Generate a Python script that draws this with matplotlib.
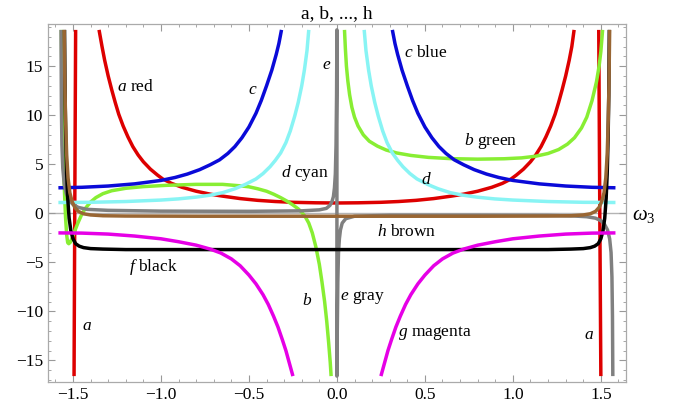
import matplotlib
matplotlib.use("Agg")
import matplotlib.pyplot as plt
from matplotlib.ticker import MultipleLocator

# ---- values ----
# a (red): two near-vertical pole lines and the central U branch
a_pole_l_x = [-1.485, -1.490, -1.494]
a_pole_l_y = [18.7, 0.0, -16.6]
a_mid_x = [-1.352, -1.335, -1.32, -1.30, -1.28, -1.26, -1.24, -1.215, -1.188, -1.16, -1.13, -1.10, -1.06,
           -1.02, -0.99, -0.94, -0.88, -0.8, -0.72, -0.65, -0.55, -0.45, -0.35, -0.25, -0.12, 0.0,
           0.12, 0.25, 0.35, 0.45, 0.55, 0.65, 0.72, 0.8, 0.88, 0.94, 0.99, 1.02, 1.06, 1.10, 1.13, 1.16,
           1.188, 1.215, 1.24, 1.26, 1.28, 1.30, 1.32, 1.335, 1.348]
a_mid_y = [18.7, 17.0, 15.6, 14.0, 12.6, 11.3, 10.1, 8.9, 7.8, 6.8, 5.95, 5.25, 4.5,
           3.9, 3.5, 3.05, 2.65, 2.25, 1.95, 1.75, 1.5, 1.32, 1.2, 1.12, 1.07, 1.05,
           1.07, 1.12, 1.2, 1.32, 1.5, 1.75, 1.95, 2.25, 2.65, 3.05, 3.5, 3.9, 4.5, 5.25, 5.95, 6.8,
           7.8, 8.9, 10.1, 11.3, 12.6, 14.0, 15.6, 17.0, 18.7]
a_pole_r_x = [1.488, 1.494, 1.500]
a_pole_r_y = [18.7, 0.0, -16.6]

# b (green)
b_left_x = [-1.566, -1.562, -1.558, -1.553, -1.548, -1.542, -1.536, -1.530, -1.524, -1.515, -1.505, -1.49,
            -1.47, -1.45, -1.43, -1.40, -1.37, -1.33, -1.28, -1.2, -1.1, -0.97, -0.8, -0.65, -0.55, -0.5,
            -0.45, -0.40, -0.36, -0.32, -0.28, -0.25, -0.22, -0.20, -0.18, -0.16, -0.14, -0.12, -0.10,
            -0.085, -0.07, -0.058, -0.047, -0.038, -0.033]
b_left_y = [18.7, 12.0, 8.0, 4.5, 2.0, -0.5, -2.2, -3.0, -3.1, -2.95, -2.5, -1.8,
            -0.9, -0.1, 0.5, 1.15, 1.6, 2.0, 2.3, 2.55, 2.72, 2.85, 2.95, 2.95, 2.8, 2.7,
            2.5, 2.25, 1.95, 1.6, 1.2, 0.85, 0.45, 0.1, -0.35, -1.0, -2.0, -3.4, -5.2,
            -7.0, -9.0, -11.0, -13.2, -15.2, -16.6]
b_right_x = [0.043, 0.048, 0.054, 0.062, 0.072, 0.085, 0.10, 0.12, 0.15, 0.184, 0.23, 0.28, 0.34, 0.42, 0.52,
             0.65, 0.8, 0.95, 1.05, 1.13, 1.2, 1.26, 1.31, 1.35, 1.39, 1.42, 1.45, 1.475, 1.49, 1.50, 1.51]
b_right_y = [18.7, 16.8, 15.0, 13.5, 12.1, 10.8, 9.8, 8.9, 8.0, 7.35, 6.85, 6.45, 6.15, 5.9, 5.7,
             5.57, 5.52, 5.56, 5.65, 5.82, 6.1, 6.5, 7.05, 7.7, 8.7, 9.8, 11.5, 13.4, 15.0, 16.5, 18.7]

# c (blue)
c_left_x = [-1.583, -1.45, -1.3, -1.15, -1.0, -0.92, -0.85, -0.78, -0.72, -0.667, -0.62, -0.58, -0.54, -0.50,
            -0.46, -0.43, -0.40, -0.37, -0.345, -0.33, -0.315]
c_left_y = [2.6, 2.65, 2.78, 3.0, 3.35, 3.65, 4.0, 4.45, 4.95, 5.45, 6.1, 6.8, 7.7, 8.8,
            10.2, 11.5, 13.0, 14.6, 16.2, 17.3, 18.7]
c_right_x = [0.315, 0.33, 0.345, 0.37, 0.40, 0.43, 0.46, 0.50, 0.54, 0.58, 0.62, 0.667, 0.72, 0.78, 0.85, 0.92,
             1.0, 1.15, 1.3, 1.45, 1.583]
c_right_y = [18.7, 17.3, 16.2, 14.6, 13.0, 11.5, 10.2, 8.8, 7.7, 6.8, 6.1, 5.45, 4.95, 4.45, 4.0, 3.65,
             3.35, 3.0, 2.78, 2.65, 2.6]

# d (cyan)
d_left_x = [-1.583, -1.4, -1.2, -1.0, -0.9, -0.8, -0.72, -0.65, -0.58, -0.52, -0.46, -0.42, -0.38, -0.35,
            -0.32, -0.29, -0.265, -0.24, -0.22, -0.20, -0.185, -0.17, -0.16]
d_left_y = [1.1, 1.12, 1.2, 1.35, 1.47, 1.65, 1.85, 2.1, 2.5, 2.95, 3.5, 4.05, 4.75, 5.4,
            6.15, 7.2, 8.4, 9.9, 11.3, 13.0, 14.6, 16.6, 18.7]
d_right_x = [0.155, 0.165, 0.18, 0.195, 0.215, 0.235, 0.26, 0.285, 0.315, 0.345, 0.375, 0.415, 0.455, 0.515,
             0.575, 0.645, 0.715, 0.795, 0.895, 1.0, 1.2, 1.4, 1.583]
d_right_y = [18.7, 16.6, 14.6, 13.0, 11.3, 9.9, 8.4, 7.2, 6.15, 5.4, 4.75, 4.05, 3.5, 2.95,
             2.5, 2.1, 1.85, 1.65, 1.47, 1.35, 1.2, 1.12, 1.1]

# e (gray): left branch runs up into the pole at 0, joined to the right branch from below
e_left_x = [-1.568, -1.566, -1.563, -1.558, -1.550, -1.538, -1.52, -1.50, -1.47, -1.42, -1.3, -1.0, -0.5,
            -0.2, -0.1, -0.06, -0.04, -0.028, -0.02, -0.014, -0.009, -0.005, -0.002, 0.0]
e_left_y = [18.7, 11.0, 7.0, 4.6, 3.0, 2.0, 1.3, 0.9, 0.6, 0.4, 0.3, 0.22, 0.2,
            0.25, 0.35, 0.5, 0.8, 1.2, 1.7, 2.6, 4.0, 7.0, 12.0, 18.7]
e_right_x = [0.0, 0.002, 0.005, 0.009, 0.014, 0.02, 0.03, 0.05, 0.1, 0.3, 0.8, 1.2, 1.35, 1.42, 1.47, 1.50,
             1.52, 1.538, 1.550, 1.558, 1.563, 1.566, 1.568]
e_right_y = [-16.6, -12.0, -7.0, -4.0, -2.6, -1.7, -1.0, -0.55, -0.3, -0.2, -0.2, -0.22, -0.28, -0.35, -0.5,
             -0.75, -1.1, -1.7, -2.6, -4.0, -6.5, -10.5, -16.6]

# f (black)
f_x = [-1.548, -1.545, -1.541, -1.536, -1.530, -1.522, -1.512, -1.50, -1.485, -1.465, -1.44, -1.40, -1.33,
       -1.2, -0.8, 0.0, 0.8, 1.2, 1.33, 1.40, 1.44, 1.465, 1.485, 1.50, 1.512, 1.522, 1.530, 1.536, 1.541,
       1.545, 1.548]
f_y = [18.7, 12.0, 7.5, 4.0, 1.5, -0.5, -1.8, -2.6, -3.1, -3.35, -3.5, -3.6, -3.65,
       -3.7, -3.7, -3.7, -3.7, -3.7, -3.65, -3.6, -3.5, -3.35, -3.1, -2.6, -1.8, -0.5, 1.5, 4.0, 7.5,
       12.0, 18.7]

# g (magenta)
g_left_x = [-1.583, -1.45, -1.3, -1.15, -1.0, -0.9, -0.8, -0.72, -0.66, -0.60, -0.55, -0.50, -0.46, -0.42,
            -0.39, -0.36, -0.335, -0.31, -0.29, -0.27, -0.25]
g_left_y = [-2.0, -2.02, -2.12, -2.32, -2.6, -2.9, -3.25, -3.65, -4.05, -4.65, -5.35, -6.3, -7.2, -8.3,
            -9.3, -10.5, -11.6, -12.9, -14.0, -15.3, -16.6]
g_right_x = [0.25, 0.27, 0.29, 0.31, 0.335, 0.36, 0.39, 0.42, 0.46, 0.50, 0.55, 0.60, 0.66, 0.72, 0.8, 0.9,
             1.0, 1.15, 1.3, 1.45, 1.583]
g_right_y = [-16.6, -15.3, -14.0, -12.9, -11.6, -10.5, -9.3, -8.3, -7.2, -6.3, -5.35, -4.65, -4.05, -3.65,
             -3.25, -2.9, -2.6, -2.32, -2.12, -2.02, -2.0]

# h (brown)
h_x = [-1.550, -1.546, -1.542, -1.536, -1.528, -1.518, -1.505, -1.49, -1.47, -1.44, -1.40, -1.33, -1.2, -0.8,
       0.0, 0.8, 1.2, 1.33, 1.40, 1.44, 1.47, 1.49, 1.505, 1.518, 1.528, 1.536, 1.542, 1.546, 1.550]
h_y = [18.7, 13.0, 9.5, 6.0, 3.6, 2.1, 1.2, 0.6, 0.2, -0.05, -0.17, -0.25, -0.28, -0.3,
       -0.3, -0.3, -0.28, -0.25, -0.17, -0.05, 0.2, 0.6, 1.2, 2.1, 3.6, 6.0, 9.5, 13.0, 18.7]

# curve labels: (text, x, y, horizontal alignment)
labels = [
    (r"$a$ red", -1.25, 12.9, "left"),
    (r"$c$", -0.48, 12.6, "center"),
    (r"$e$", -0.06, 15.1, "center"),
    (r"$c$ blue", 0.38, 16.3, "left"),
    (r"$b$ green", 0.72, 7.4, "left"),
    (r"$d$ cyan", -0.32, 4.1, "left"),
    (r"$d$", 0.51, 3.4, "center"),
    (r"$h$ brown", 0.225, -1.9, "left"),
    (r"$f$ black", -1.18, -5.5, "left"),
    (r"$b$", -0.17, -8.9, "center"),
    (r"$e$ gray", 0.015, -8.6, "left"),
    (r"$g$ magenta", 0.345, -12.2, "left"),
    (r"$a$", -1.42, -11.5, "center"),
    (r"$a$", 1.43, -12.4, "center"),
]

RED = "#dd0000"
GREEN = "#88ee33"
BLUE = "#0a0ad8"
CYAN = "#88f4f4"
GRAY = "#808080"
BLACK = "#000000"
MAGENTA = "#e600e6"
BROWN = "#996633"

plt.rcParams["font.family"] = ["Liberation Serif", "DejaVu Serif"]
plt.rcParams["mathtext.fontset"] = "custom"
plt.rcParams["mathtext.rm"] = "Liberation Serif"
plt.rcParams["mathtext.it"] = "Liberation Serif:italic"

fig = plt.figure(figsize=(6.81, 4.11), dpi=100)
ax = fig.add_axes([0.0705, 0.0706, 0.8485, 0.871])

ax.axhline(0, color="#b4b4b4", lw=1.0, zorder=1)

lw = 2.5
series = [
    (RED, [(a_pole_l_x, a_pole_l_y), (a_mid_x, a_mid_y), (a_pole_r_x, a_pole_r_y)]),
    (GREEN, [(b_left_x, b_left_y), (b_right_x, b_right_y)]),
    (BLUE, [(c_left_x, c_left_y), (c_right_x, c_right_y)]),
    (CYAN, [(d_left_x, d_left_y), (d_right_x, d_right_y)]),
    (GRAY, [(e_left_x + e_right_x, e_left_y + e_right_y)]),
    (BLACK, [(f_x, f_y)]),
    (MAGENTA, [(g_left_x, g_left_y), (g_right_x, g_right_y)]),
    (BROWN, [(h_x, h_y)]),
]
for i, (col, branches) in enumerate(series):
    for xs, ys in branches:
        ax.plot(xs, ys, color=col, lw=lw, solid_capstyle="butt", solid_joinstyle="round", zorder=2 + i)

for txt, x, y, ha in labels:
    ax.text(x, y, txt, fontsize=12.5, ha=ha, va="center", zorder=20)

ax.set_xlim(-1.642, 1.642)
ax.set_ylim(-17.2, 19.3)
ax.xaxis.set_major_locator(MultipleLocator(0.5))
ax.xaxis.set_minor_locator(MultipleLocator(0.1))
ax.yaxis.set_major_locator(MultipleLocator(5))
ax.yaxis.set_minor_locator(MultipleLocator(1))
ax.tick_params(which="both", direction="in", top=True, right=True, color="#999999", labelsize=12.5)
ax.tick_params(which="major", length=5, width=0.8)
ax.tick_params(which="minor", length=2.5, width=0.6)
for sp in ax.spines.values():
    sp.set_color("#aaaaaa")
    sp.set_linewidth(0.9)

ax.set_title("a, b, ..., h", fontsize=14, pad=4)
ax.text(1.676, -0.2, r"$\omega_3$", fontsize=15, ha="left", va="center", clip_on=False)

fig.savefig("out.png", dpi=100)
